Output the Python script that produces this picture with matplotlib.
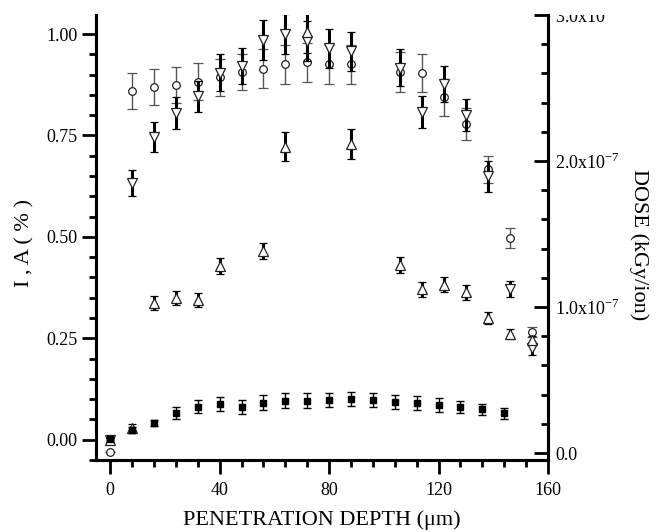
import matplotlib
matplotlib.use("Agg")
import matplotlib.pyplot as plt
from matplotlib.ticker import MultipleLocator, FixedLocator
from matplotlib.transforms import Bbox, TransformedBbox

plt.rcParams['font.family'] = ['Liberation Serif', 'DejaVu Serif']
plt.rcParams['mathtext.fontset'] = 'custom'
plt.rcParams['mathtext.rm'] = 'Liberation Serif'

# open circles
x_circ = [0, 8, 16, 24, 32, 40, 48, 56, 64, 72, 80, 88, 106, 114, 122, 130, 138, 146, 154]
y_circ = [-0.03, 0.86, 0.869, 0.875, 0.883, 0.893, 0.906, 0.915, 0.926, 0.931, 0.925, 0.925,
          0.907, 0.904, 0.844, 0.778, 0.667, 0.498, 0.265]
e_circ = [0.0, 0.045, 0.045, 0.045, 0.045, 0.045, 0.045, 0.047, 0.048, 0.048, 0.048, 0.047,
          0.05, 0.047, 0.045, 0.04, 0.033, 0.025, 0.012]

# open down triangles
x_down = [0, 8, 16, 24, 32, 40, 48, 56, 64, 72, 80, 88, 106, 114, 122, 130, 138, 146, 154]
y_down = [0.0, 0.632, 0.747, 0.806, 0.847, 0.905, 0.921, 0.985, 1.0, 0.983, 0.965, 0.958,
          0.917, 0.808, 0.877, 0.80, 0.649, 0.371, 0.225]
e_down = [0.005, 0.032, 0.037, 0.04, 0.038, 0.045, 0.045, 0.05, 0.05, 0.05, 0.048, 0.048,
          0.045, 0.04, 0.045, 0.04, 0.038, 0.02, 0.015]

# open up triangles
x_up = [0, 8, 16, 24, 32, 40, 56, 64, 72, 88, 106, 114, 122, 130, 138, 146, 154]
y_up = [0.0, 0.03, 0.338, 0.349, 0.345, 0.429, 0.466, 0.722, 1.004, 0.729,
        0.431, 0.371, 0.382, 0.363, 0.300, 0.261, 0.245]
e_up = [0.005, 0.01, 0.017, 0.017, 0.017, 0.02, 0.02, 0.036, 0.05, 0.036,
        0.02, 0.018, 0.018, 0.018, 0.015, 0.012, 0.01]

# dose (filled squares), units of 1e-7 kGy/ion
x_dose = [0, 8, 16, 24, 32, 40, 48, 56, 64, 72, 80, 88, 96, 104, 112, 120, 128, 136, 144]
y_dose = [0.096, 0.158, 0.208, 0.272, 0.317, 0.336, 0.317, 0.345, 0.358, 0.358, 0.363, 0.37,
          0.363, 0.349, 0.345, 0.329, 0.317, 0.299, 0.272]
e_dose = [0.01, 0.02, 0.02, 0.04, 0.043, 0.05, 0.047, 0.05, 0.053, 0.053, 0.05, 0.05,
          0.05, 0.048, 0.048, 0.045, 0.04, 0.037, 0.037]

dose_ticks = [0.0, 1.0, 2.0, 3.0]
dose_labels = ['0.0', r'1.0x10$^{\mathregular{-7}}$', r'2.0x10$^{\mathregular{-7}}$',
               r'3.0x10$^{\mathregular{-7}}$']

fig = plt.figure(figsize=(6.59, 5.32), dpi=100)
left, bottom, right, top = 0.1464, 0.1353, 0.8316, 0.9718
ax = fig.add_axes([left, bottom, right - left, top - bottom])
ax2 = ax.twinx()

ax.errorbar(x_circ, y_circ, yerr=e_circ, fmt='o', ms=5.5, mfc='white', mec='#222222', mew=0.9,
            ecolor='#555555', elinewidth=1.0, capsize=3.5, capthick=1.0, zorder=3)
ax.errorbar(x_down, y_down, yerr=e_down, fmt='v', ms=6.5, mfc='white', mec='#222222', mew=0.9,
            ecolor='black', elinewidth=2.2, capsize=3, capthick=2.2, zorder=4)
ax.errorbar(x_up, y_up, yerr=e_up, fmt='^', ms=6.5, mfc='white', mec='#222222', mew=0.9,
            ecolor='black', elinewidth=2.2, capsize=3, capthick=2.2, zorder=4)

ax2.errorbar(x_dose, [v * 1e-7 for v in y_dose], yerr=[v * 1e-7 for v in e_dose], fmt='s',
             ms=5, mfc='black', mec='black', ecolor='black', elinewidth=1.0,
             capsize=3, capthick=1.0)

ax.set_xlim(-5, 160)
ax.set_ylim(-0.05, 1.047)
ax2.set_ylim(-0.048e-7, 3.0e-7)

ax.xaxis.set_major_locator(MultipleLocator(40))
ax.xaxis.set_minor_locator(MultipleLocator(8))
ax.yaxis.set_major_locator(MultipleLocator(0.25))
ax.yaxis.set_minor_locator(MultipleLocator(0.05))
ax.yaxis.set_major_formatter(plt.FormatStrFormatter('%.2f'))

ax2.yaxis.set_major_locator(FixedLocator([v * 1e-7 for v in dose_ticks]))
ax2.set_yticklabels(dose_labels)
ax2.yaxis.set_minor_locator(MultipleLocator(0.2e-7))

for a in (ax, ax2):
    a.spines['top'].set_visible(False)
    for s in ('left', 'right', 'bottom'):
        a.spines[s].set_linewidth(2.2)

ax.tick_params(which='both', direction='out', width=2, labelsize=13, top=False, right=False)
ax.tick_params(which='major', length=10)
ax.tick_params(which='minor', length=5)
ax.tick_params(axis='x', pad=6)
ax2.tick_params(which='both', direction='in', width=2, labelsize=13)
ax2.tick_params(which='major', length=10, pad=5)
ax2.tick_params(which='minor', length=5)

# the top dose label is cut at the top of the axes in the original
clip = TransformedBbox(Bbox([[0, 0], [1, top]]), fig.transFigure)
for t in ax2.yaxis.get_major_ticks():
    t.label2.set_clip_box(clip)
    t.label2.set_clip_on(True)

fig.text(322 / 659, 1 - 520 / 532, 'PENETRATION DEPTH (μm)', size=16, ha='center', va='center')
fig.text(25 / 659, 1 - 243 / 532, 'I , A ( % )', size=16, rotation=90, ha='center', va='center')
fig.text(639 / 659, 1 - 245 / 532, 'DOSE (kGy/ion)', size=16, rotation=-90, ha='center', va='center')

fig.savefig('out.png', dpi=100)
